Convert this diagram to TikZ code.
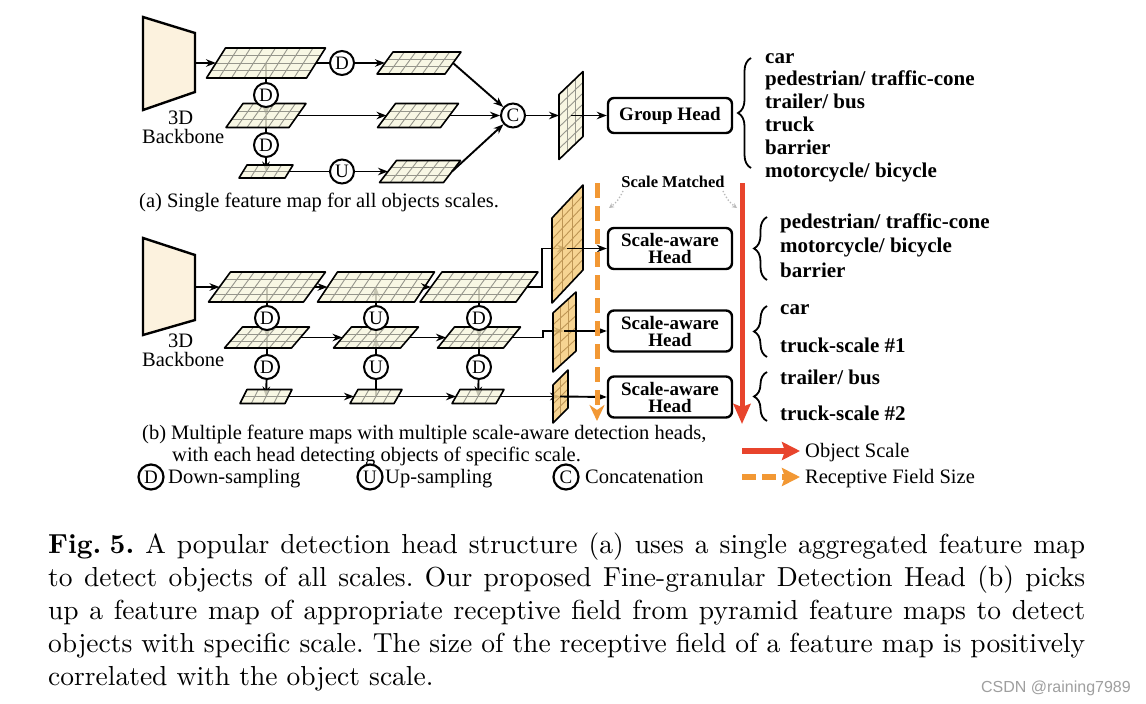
\documentclass[tikz,border=0pt]{standalone}
\usepackage{fontspec}
\setmainfont{Liberation Serif}
\newfontfamily\capfont{lmroman10-regular.otf}[BoldFont=lmroman10-bold.otf]
\newfontfamily\wmfont{Liberation Sans}
\usetikzlibrary{arrows.meta,decorations.pathreplacing}
\pgfdeclarelayer{background}
\pgfsetlayers{background,main}
\definecolor{bbfill}{RGB}{252,242,222}
\definecolor{mfill}{RGB}{247,245,222}
\definecolor{mgrid}{RGB}{150,150,140}
\definecolor{ofill}{RGB}{245,205,128}
\definecolor{ogrid}{RGB}{190,150,85}
\definecolor{odash}{RGB}{242,152,52}
\definecolor{rline}{RGB}{232,68,44}
% horizontal feature map: name, cx, cy, w, h, skew, cols, rows
\newcommand{\fmapH}[8]{%
  \coordinate (#1) at (#2,#3);
  \coordinate (#1-l) at ({#2-#4/2},#3);
  \coordinate (#1-r) at ({#2+#4/2},#3);
  \begin{scope}[shift={(#2,#3)}]
    \fill[mfill,fill opacity=0.8] ({-#4/2-#6/2},{#5/2}) -- ({#4/2-#6/2},{#5/2}) -- ({#4/2+#6/2},{-#5/2}) -- ({-#4/2+#6/2},{-#5/2}) -- cycle;
    \pgfmathtruncatemacro\nc{#7-1}
    \pgfmathtruncatemacro\nr{#8-1}
    \foreach \i in {1,...,\nc}{\draw[mgrid,line width=0.9pt] ({-#4/2-#6/2+\i*#4/#7},{#5/2}) -- ({-#4/2+#6/2+\i*#4/#7},{-#5/2});}
    \foreach \j in {1,...,\nr}{\draw[mgrid,line width=0.9pt] ({-#4/2+#6/2-\j*#6/#8},{-#5/2+\j*#5/#8}) -- ++(#4,0);}
    \draw[line width=1.6pt,line join=round] ({-#4/2-#6/2},{#5/2}) -- ({#4/2-#6/2},{#5/2}) -- ({#4/2+#6/2},{-#5/2}) -- ({-#4/2+#6/2},{-#5/2}) -- cycle;
  \end{scope}}
% vertical feature map: name, cx, cy, w, h, skew, cols, rows, colour prefix
\newcommand{\fmapV}[9]{%
  \coordinate (#1) at (#2,#3);
  \coordinate (#1-l) at ({#2-#4/2},#3);
  \coordinate (#1-r) at ({#2+#4/2},#3);
  \begin{scope}[shift={(#2,#3)}]
    \fill[#9fill,fill opacity=0.85] ({-#4/2},{-#5/2+#6/2}) -- ({#4/2},{-#5/2-#6/2}) -- ({#4/2},{#5/2-#6/2}) -- ({-#4/2},{#5/2+#6/2}) -- cycle;
    \pgfmathtruncatemacro\nc{#7-1}
    \pgfmathtruncatemacro\nr{#8-1}
    \foreach \i in {1,...,\nc}{\draw[#9grid,line width=0.9pt] ({-#4/2+\i*#4/#7},{-#5/2+#6/2-\i*#6/#7}) -- ++(0,#5);}
    \foreach \j in {1,...,\nr}{\draw[#9grid,line width=0.9pt] ({-#4/2},{-#5/2+#6/2+\j*#5/#8}) -- ({#4/2},{-#5/2-#6/2+\j*#5/#8});}
    \draw[line width=1.6pt,line join=round] ({-#4/2},{-#5/2+#6/2}) -- ({#4/2},{-#5/2-#6/2}) -- ({#4/2},{#5/2-#6/2}) -- ({-#4/2},{#5/2+#6/2}) -- cycle;
  \end{scope}}
\begin{document}
\begin{tikzpicture}[x=1pt,y=-1pt,
  ln/.style={line width=1.9pt},
  arr/.style={line width=1.9pt,-{Stealth[length=10pt,width=7.5pt]}},
  circ/.style={circle,draw,line width=2pt,fill=white,minimum size=24pt,inner sep=0pt,font={\fontsize{19}{19}\selectfont}},
  lcirc/.style={circ,minimum size=25pt,line width=2.2pt,font={\fontsize{19}{19}\selectfont}},
  head/.style={draw,line width=2.4pt,rounded corners=6pt,minimum width=124pt,fill=white,align=center,inner sep=0pt,font={\bfseries\fontsize{19}{17}\selectfont}},
  cls/.style={anchor=base west,inner sep=0pt,font={\bfseries\fontsize{21}{21}\selectfont}},
  txt/.style={anchor=base west,inner sep=0pt,font={\fontsize{20.5}{20.5}\selectfont}},
  captxt/.style={anchor=base west,inner sep=0pt,font={\capfont\fontsize{27.5}{33}\selectfont\frenchspacing}},
  brace/.style={decorate,decoration={brace,amplitude=13pt},line width=1.8pt},
  bb/.style={fill=bbfill,draw=black,line width=2.4pt,line join=miter},
  dotarr/.style={gray!55,dotted,line width=1.3pt,-{Stealth[length=5pt,width=5pt]}},
]
\useasboundingbox (0,0) rectangle (1146,704);
\begin{pgfonlayer}{background}
\fill[white] (0,0) rectangle (1146,704);
\end{pgfonlayer}

% ================= (a) =================
\filldraw[bb] (143,17) -- (195,33) -- (195,92) -- (143,110) -- cycle;
\coordinate (bbA) at (195,63);
\node[txt] (a3d) at (168,124) {3D};
\node[txt] (abb) at (142,143) {Backbone};

\fmapH{a1}{266}{63}{100}{30}{19}{8}{4}
\fmapH{a2}{419}{63}{68}{22}{16}{6}{3}
\fmapH{a3}{266}{115.5}{63}{24}{17}{6}{3}
\fmapH{a4}{266}{171.5}{46}{13}{8}{4}{2}
\fmapH{a5}{420}{171.5}{64}{22}{17}{6}{3}
\fmapH{a6}{418}{115.5}{63}{24}{18}{6}{3}
\fmapV{ga}{571}{115.5}{24}{65}{23}{3}{6}{m}

\node[circ] (aD1) at (342,63) {D};
\node[circ] (aD2) at (266,95) {D};
\node[circ] (aD3) at (266,145) {D};
\node[circ] (aU) at (342,171.5) {U};
\node[circ] (aC) at (513,115.5) {C};
\node[head,minimum height=35pt] (gh) at (670,115.5) {Group Head};

\begin{pgfonlayer}{background}
\draw[ln] (a1) -- (aD2);
\draw[arr] (aD2) -- (a3);
\draw[ln] (a3) -- (aD3);
\draw[arr] (aD3) -- (a4);
\end{pgfonlayer}
\draw[arr] (bbA) -- (a1-l);
\draw[ln] (a1-r) -- (aD1);
\draw[arr] (aD1) -- (a2-l);
\draw[arr] (a3-r) -- (a6-l);
\draw[ln] (a4-r) -- (aU);
\draw[arr] (aU) -- (a5-l);
\draw[arr] (a2-r) -- (aC);
\draw[arr] (a6-r) -- (aC);
\draw[arr] (a5-r) -- (aC);
\draw[arr] (aC) -- (ga-l);
\draw[arr] (ga) -- (gh.west);

\draw[brace] (751,168) -- (751,58);
\node[cls] (ac1) at (765,63) {car};
\node[cls] (ac2) at (765,85) {pedestrian/ traffic-cone};
\node[cls] (ac3) at (765,108) {trailer/ bus};
\node[cls] (ac4) at (765,131) {truck};
\node[cls] (ac5) at (765,154) {barrier};
\node[cls] (ac6) at (765,177) {motorcycle/ bicycle};

\node[txt] (capa) at (139,207) {(a) Single feature map for all objects scales.};

% ================= (b) =================
\filldraw[bb] (143,238) -- (195,255) -- (195,320) -- (143,335) -- cycle;
\coordinate (bbB) at (195,287);
\node[txt] (b3d) at (168,347) {3D};
\node[txt] (bbb) at (142,366) {Backbone};

\fmapH{b1}{267}{287}{95}{30}{22}{8}{4}
\fmapH{b2}{376}{287}{97}{30}{20}{8}{4}
\fmapH{b3}{479}{287}{96}{30}{22}{8}{4}
\fmapH{m1}{267}{337.5}{67}{21}{18}{6}{3}
\fmapH{m2}{376}{337.5}{67}{21}{18}{6}{3}
\fmapH{m3}{479}{337.5}{66}{21}{17}{6}{3}
\fmapH{s1}{266}{396.5}{45}{14}{7}{4}{2}
\fmapH{s2}{376}{396.5}{44}{14}{8}{4}{2}
\fmapH{s3}{478}{396.5}{44}{14}{8}{4}{2}

\fmapV{o1}{567.5}{244}{31}{85}{33}{3}{8}{o}
\fmapV{o2}{564.5}{332}{23}{59}{21}{3}{5}{o}
\fmapV{o3}{560.5}{396.5}{15}{38}{15}{2}{4}{o}
\coordinate (t1) at (567,248.5);
\coordinate (t2) at (564,331);
\coordinate (t3) at (560,396.5);

\node[circ] (bD1) at (267,318) {D};
\node[circ] (bD2) at (267,367) {D};
\node[circ] (bU1) at (376,318) {U};
\node[circ] (bU2) at (376,367) {U};
\node[circ] (bD3) at (479,318) {D};
\node[circ] (bD4) at (479,367) {D};

\node[head,minimum height=41pt] (h1) at (670,248.5) {Scale-aware\\Head};
\node[head,minimum height=41pt] (h2) at (670,331) {Scale-aware\\Head};
\node[head,minimum height=41pt] (h3) at (670,397) {Scale-aware\\Head};

\begin{pgfonlayer}{background}
\draw[ln] (b1) -- (bD1);
\draw[arr] (bD1) -- (m1);
\draw[ln] (m1) -- (bD2);
\draw[arr] (bD2) -- (s1);
\draw[ln] (s2) -- (bU2);
\draw[arr] (bU2) -- (m2);
\draw[ln] (m2) -- (bU1);
\draw[arr] (bU1) -- (b2);
\draw[ln] (b3) -- (bD3);
\draw[arr] (bD3) -- (m3);
\draw[ln] (m3) -- (bD4);
\draw[arr] (bD4) -- (s3);
\draw[arr] (b3-r) -- ++(15,0) |- (t1);
\draw[arr] (m3-r) -- ++(31,0) |- (t2);
\draw[arr] (s3-r) -- (t3);
\end{pgfonlayer}
\draw[arr] (bbB) -- (b1-l);
\draw[arr] (b1-r) -- (b2-l);
\draw[arr] (b2-r) -- (b3-l);
\draw[arr] (m1-r) -- (m2-l);
\draw[arr] (m2-r) -- (m3-l);
\draw[arr] (s1-r) -- (s2-l);
\draw[arr] (s2-r) -- (s3-l);
\draw[arr] (t1) -- (h1.west);
\draw[arr] (t2) -- (h2.west);
\draw[arr] (t3) -- (h3.west);

% scale arrows
\coordinate (otop) at (597,183);
\coordinate (obot) at (597,421);
\coordinate (rtop) at (742,183);
\coordinate (rbot) at (742,424);
\draw[odash,line width=5pt,dash pattern=on 15pt off 8pt,-{Stealth[length=16pt,width=15pt,inset=5pt]}] (otop) -- (obot);
\draw[rline,line width=5pt,-{Stealth[length=20pt,width=17pt,inset=3pt]}] (rtop) -- (rbot);

\node[anchor=base,inner sep=0pt,font={\bfseries\fontsize{16.5}{16.5}\selectfont}] (smt) at (673,187) {Scale Matched};
\coordinate (sm1s) at (623,191);
\coordinate (sm1e) at (609,208);
\coordinate (sm2s) at (723,191);
\coordinate (sm2e) at (737,208);
\draw[dotarr] (sm1s) to[bend left=15] (sm1e);
\draw[dotarr] (sm2s) to[bend right=15] (sm2e);

\draw[brace] (767,280) -- (767,217);
\draw[brace] (767,357) -- (767,306);
\draw[brace] (767,421) -- (767,372);
\node[cls] (bc1) at (780,228) {pedestrian/ traffic-cone};
\node[cls] (bc2) at (780,252) {motorcycle/ bicycle};
\node[cls] (bc3) at (780,277) {barrier};
\node[cls] (bc4) at (780,314) {car};
\node[cls] (bc5) at (780,352) {truck-scale \#1};
\node[cls] (bc6) at (780,384) {trailer/ bus};
\node[cls] (bc7) at (780,420) {truck-scale \#2};

\node[txt] (capb1) at (142,439) {(b) Multiple feature maps with multiple scale-aware detection heads,};
\node[txt] (capb2) at (172,461) {with each head detecting objects of specific scale.};

% legend
\node[lcirc] (lD) at (151,477) {D};
\node[txt] (lDt) at (168,483) {Down-sampling};
\node[lcirc] (lU) at (370,477) {U};
\node[txt] (lUt) at (385,483) {Up-sampling};
\node[lcirc] (lC) at (566,477) {C};
\node[txt] (lCt) at (585,483) {Concatenation};
\coordinate (lr1) at (742,451);
\coordinate (lr2) at (800,451);
\coordinate (lo1) at (742,477);
\coordinate (lo2) at (800,477);
\draw[rline,line width=6pt,-{Stealth[length=18pt,width=18pt,inset=3pt]}] (lr1) -- (lr2);
\draw[odash,line width=6pt,dash pattern=on 14pt off 6pt,-{Stealth[length=18pt,width=18pt,inset=3pt]}] (lo1) -- (lo2);
\node[txt] (lrt) at (805,457) {Object Scale};
\node[txt] (lot) at (805,483) {Receptive Field Size};

% caption
\node[captxt] (c1) at (48,553) {\makebox[1037pt][s]{\textbf{Fig.\hspace{0.3em}5.}\hspace{0.4em}A popular detection head structure (a) uses a single aggregated feature map}};
\node[captxt] (c2) at (48,586) {\makebox[1037pt][s]{to detect objects of all scales. Our proposed Fine-granular Detection Head (b) picks}};
\node[captxt] (c3) at (48,619) {\makebox[1037pt][s]{up a feature map of appropriate receptive field from pyramid feature maps to detect}};
\node[captxt] (c4) at (48,652) {\makebox[1037pt][s]{objects with specific scale. The size of the receptive field of a feature map is positively}};
\node[captxt] (c5) at (48,685) {correlated with the object scale.};
\node[anchor=base east,inner sep=0pt,font={\wmfont\fontsize{16}{16}\selectfont},text=gray!75] (wm) at (1131,692) {CSDN @raining7989};
\end{tikzpicture}
\end{document}
